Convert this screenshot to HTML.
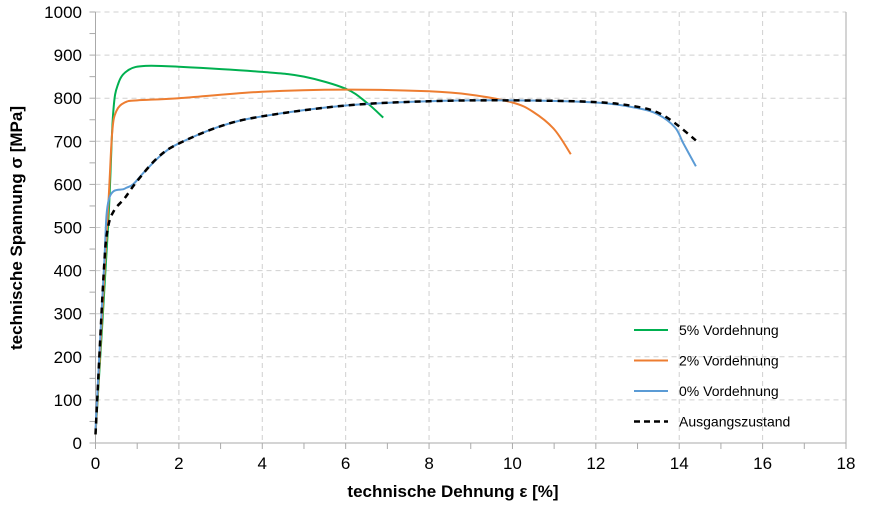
<!DOCTYPE html>
<html><head><meta charset="utf-8"><style>
body{margin:0;background:#fff;font-family:"Liberation Sans",Arial,sans-serif}
svg text{font-family:"Liberation Sans",Arial,sans-serif}
</style></head><body>
<svg id="chart" width="877" height="501" xmlns="http://www.w3.org/2000/svg">
<g id="grid"></g>
<g id="axes"></g>
<g id="series"></g>
<text x="453" y="497" text-anchor="middle" font-size="17" font-weight="bold">technische Dehnung ε [%]</text>
<text transform="translate(22,228) rotate(-90)" text-anchor="middle" font-size="17" font-weight="bold">technische Spannung σ [MPa]</text>
<g id="legend"></g>
</svg>
<script>
const xTicks=[0,2,4,6,8,10,12,14,16,18];
const yTicks=[0,100,200,300,400,500,600,700,800,900,1000];
const seriesNames=["5% Vordehnung","2% Vordehnung","0% Vordehnung","Ausgangszustand"];
const green=[[0,20],[0.3,500],[0.42,760],[0.55,835],[0.8,866],[1.2,875],[2,873],[4,861],[5,850],[6,822],[6.5,790],[6.9,755]];
const orange=[[0,20],[0.3,540],[0.4,720],[0.5,770],[0.7,790],[1,795],[2,800],[4,815],[6,820],[8,816],[9,808],[10,790],[10.5,768],[11,728],[11.4,670]];
const blue=[[0,30],[0.2,400],[0.32,565],[0.7,590],[0.9,600],[1.2,632],[1.6,670],[2,695],[3,735],[4,758],[6,783],[8,793],[10,795],[12,790],[13,777],[13.5,762],[13.9,732],[14.1,695],[14.4,642]];
const black=[[0,20],[0.2,400],[0.3,500],[0.45,540],[0.7,568],[1,608],[1.5,663],[2,695],[3,735],[4,758],[6,783],[8,793],[10,795],[12,791],[13,780],[13.5,766],[13.9,742],[14.4,702]];
const X0=95.5,X1=846,Y0=443,Y1=12;
const sx=v=>X0+(v-0)/18*(X1-X0);
const sy=v=>Y0-(v/1000)*(Y0-Y1);
const NS="http://www.w3.org/2000/svg";
function mk(tag,attrs,parent){const e=document.createElementNS(NS,tag);for(const k in attrs)e.setAttribute(k,attrs[k]);parent.appendChild(e);return e;}
const grid=document.getElementById('grid'),axes=document.getElementById('axes'),ser=document.getElementById('series'),leg=document.getElementById('legend');
yTicks.forEach(t=>{if(t>0){const l=mk('line',{x1:X0,x2:X1,y1:sy(t),y2:sy(t),stroke:'#d0d0d0','stroke-dasharray':'5,4'},grid);

}
const tx=mk('text',{x:82,y:sy(t)+6,'text-anchor':'end','font-size':'17'},axes);tx.textContent=t;


mk('line',{x1:X0-6,x2:X0,y1:sy(t),y2:sy(t),stroke:'#aaa'},axes);
if(t<1000)mk('line',{x1:X0-6,x2:X0,y1:sy(t+50),y2:sy(t+50),stroke:'#aaa'},axes);
});
xTicks.forEach(t=>{if(t>0){const l=mk('line',{x1:sx(t),x2:sx(t),y1:Y1,y2:Y0,stroke:t==18?'#aaa':'#d0d0d0','stroke-dasharray':t==18?'':'5,4'},grid);

}
const tx=mk('text',{x:sx(t),y:469,'text-anchor':'middle','font-size':'17'},axes);tx.textContent=t;


mk('line',{x1:sx(t),x2:sx(t),y1:Y0,y2:Y0+6,stroke:'#aaa'},axes);
if(t<18)mk('line',{x1:sx(t+1),x2:sx(t+1),y1:Y0,y2:Y0+6,stroke:'#aaa'},axes);
});
mk('line',{x1:X0,x2:X0,y1:Y1,y2:Y0,stroke:'#aaa'},axes);
mk('line',{x1:X0,x2:X1,y1:Y0,y2:Y0,stroke:'#aaa'},axes);
function pathD(data){const p=data.map(d=>[sx(d[0]),sy(d[1])]);let d='M'+p[0][0]+','+p[0][1];
for(let i=0;i<p.length-1;i++){const a=p[i-1]||p[i],b=p[i],c=p[i+1],e=p[i+2]||c;
const c1=[b[0]+(c[0]-a[0])/6,b[1]+(c[1]-a[1])/6],c2=[c[0]-(e[0]-b[0])/6,c[1]-(e[1]-b[1])/6];
d+=` C${c1[0]},${c1[1]} ${c2[0]},${c2[1]} ${c[0]},${c[1]}`;}return d;}
const styles=[['#00b050',''],['#ed7d31',''],['#5b9bd5',''],['#000','6,5']];
const allData=[green,orange,blue,black];
const names=['series-5pct','series-2pct','series-0pct','series-ausgang'];
allData.forEach((s,i)=>{const p=mk('path',{d:pathD(s),fill:'none',stroke:styles[i][0],'stroke-width':i==3?2.5:2,'stroke-dasharray':styles[i][1]},ser);

});
seriesNames.forEach((n,i)=>{const y=330+i*30.5;
const g=mk('g',{},leg);


mk('line',{x1:634,x2:668,y1:y,y2:y,stroke:styles[i][0],'stroke-width':i==3?2.5:2,'stroke-dasharray':i==3?'6,4':''},g);
const t=mk('text',{x:679,y:y+5,'font-size':'14'},g);t.textContent=n;});
</script>
</body></html>
